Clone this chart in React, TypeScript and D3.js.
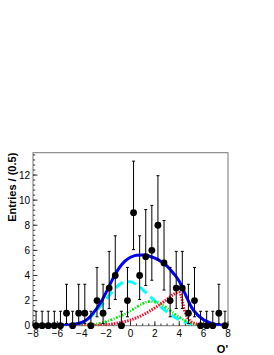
import React from "react";
import * as d3 from "d3";

// ---- data ----
const binCenters = [
  -7.75, -7.25, -6.75, -6.25, -5.75, -5.25, -4.75, -4.25, -3.75, -3.25, -2.75, -2.25, -1.75, -1.25, -0.75, -0.25,
  0.25, 0.75, 1.25, 1.75, 2.25, 2.75, 3.25, 3.75, 4.25, 4.75, 5.25, 5.75, 6.25, 6.75, 7.25, 7.75,
];
const counts = [0, 0, 0, 0, 0, 1, 0, 1, 1, 0, 2, 1, 3, 4, 0, 2, 9, 4, 5.5, 6, 8, 5, 2, 3, 3, 1, 2, 0, 0, 0, 1, 0];
const errLow = [
  0, 0, 0, 0, 0, 0.83, 0, 0.83, 0.83, 0, 1.29, 0.83, 1.63, 1.91, 0, 1.29,
  2.94, 1.91, 2.3, 2.38, 2.77, 2.16, 1.29, 1.63, 1.63, 0.83, 1.29, 0, 0, 0, 0.83, 0,
];
const errHigh = [
  1.15, 1.15, 1.15, 1.15, 1.15, 2.3, 1.15, 2.3, 2.3, 1.15, 2.64, 2.3, 2.92, 3.16, 1.15, 2.64,
  4.11, 3.16, 3.75, 3.58, 3.95, 3.38, 2.64, 2.92, 2.92, 2.3, 2.64, 1.15, 1.15, 1.15, 2.3, 1.15,
];

const curveX = [
  -8, -7.5, -7, -6.5, -6, -5.5, -5, -4.5, -4, -3.5, -3, -2.5, -2, -1.5, -1, -0.5, 0,
  0.5, 1, 1.5, 2, 2.5, 3, 3.5, 4, 4.5, 5, 5.5, 6, 6.5, 7, 7.5, 8,
];
const totalPdf = [
  0, 0, 0, 0, 0.01, 0.03, 0.06, 0.13, 0.27, 0.55, 1.08, 1.75, 2.65, 3.65, 4.5, 5.1, 5.45,
  5.62, 5.63, 5.55, 5.38, 5.12, 4.75, 4.2, 3.55, 2.5, 1.48, 0.86, 0.48, 0.25, 0.1, 0.03, 0.01,
];
const cyanPdf = [
  0, 0, 0, 0, 0, 0.01, 0.03, 0.09, 0.22, 0.5, 0.95, 1.5, 2.1, 2.7, 3.2, 3.48, 3.5,
  3.27, 2.88, 2.42, 1.97, 1.5, 1.1, 0.75, 0.47, 0.27, 0.14, 0.06, 0.02, 0, 0, 0, 0,
];
const greenPdf = [
  0, 0, 0, 0, 0, 0, 0, 0, 0.02, 0.05, 0.1, 0.2, 0.33, 0.5, 0.7, 0.92, 1.18,
  1.48, 1.76, 1.92, 1.9, 1.72, 1.4, 1.03, 0.68, 0.4, 0.2, 0.08, 0.03, 0.01, 0, 0, 0,
];
const redPdf = [
  0, 0, 0, 0, 0, 0, 0, 0, 0, 0, 0.02, 0.04, 0.08, 0.14, 0.22, 0.32, 0.45,
  0.63, 0.85, 1.12, 1.42, 1.75, 2.1, 2.48, 2.65, 1.0, 0.3, 0.12, 0.05, 0.02, 0.01, 0, 0,
];

const xTickValues = [-8, -6, -4, -2, 0, 2, 4, 6, 8];
const yTickValues = [0, 2, 4, 6, 8, 10, 12];
const yTitle = "Entries / (0.5)";
const xTitle = "O'";

// ---- layout ----
const W = 274;
const H = 355;
const left = 33;
const right = 228;
const top = 152.7;
const bottom = 325.7;
const yMax = 13.78;

export default function App() {
  const x = d3.scaleLinear().domain([-8, 8]).range([left, right]);
  const y = d3.scaleLinear().domain([0, yMax]).range([bottom, top]);

  const line = (vals: number[]) =>
    d3
      .line<number>()
      .x((_, i) => x(curveX[i]))
      .y((v) => y(v))
      .curve(d3.curveMonotoneX)(vals) || "";

  const xMinor = d3.range(-8, 8.001, 0.5);
  const yMinor = d3.range(0, yMax, 0.4);
  const minus = (v: number) => (v < 0 ? "\u2212" + Math.abs(v) : String(v));
  const font = "Liberation Sans, Arial, Helvetica, sans-serif";

  return (
    <svg width={W} height={H} style={{ position: "absolute", left: 0, top: 0 }} fontFamily={font}>
      <rect x={0} y={0} width={W} height={H} fill="#fff" />
      <defs>
        <clipPath id="frame">
          <rect x={left} y={top} width={right - left} height={bottom - top} />
        </clipPath>
      </defs>
      {/* frame */}
      <rect x={left} y={top} width={right - left} height={bottom - top} fill="none" stroke="#777" strokeWidth={1} />

      {/* y ticks */}
      {yMinor.map((v) => (
        <line key={"ym" + v} x1={left} x2={left + 2.2} y1={y(v)} y2={y(v)} stroke="#333" strokeWidth={1} />
      ))}
      {yTickValues.map((v) => (
        <g key={"y" + v}>
          <line x1={left} x2={left + 4.5} y1={y(v)} y2={y(v)} stroke="#333" strokeWidth={1} />
          <text x={left - 3} y={y(v)} dy="0.36em" textAnchor="end" fontSize={10} fill="#000">
            {v}
          </text>
        </g>
      ))}
      {/* x ticks */}
      {xMinor.map((v) => (
        <line key={"xm" + v} x1={x(v)} x2={x(v)} y1={bottom} y2={bottom - 2.2} stroke="#333" strokeWidth={1} />
      ))}
      {xTickValues.map((v) => (
        <g key={"x" + v}>
          <line x1={x(v)} x2={x(v)} y1={bottom} y2={bottom - 4.5} stroke="#333" strokeWidth={1} />
          <text x={x(v)} y={bottom + 11} textAnchor="middle" fontSize={10} fill="#000">
            {minus(v)}
          </text>
        </g>
      ))}

      {/* titles */}
      <text
        transform={`translate(15.5,${top}) rotate(-90)`}
        textAnchor="end"
        fontSize={11}
        fontWeight="bold"
        fill="#000"
      >
        {yTitle}
      </text>
      <text x={right} y={352.5} textAnchor="end" fontSize={11} fontWeight="bold" fill="#000">
        {xTitle}
      </text>

      {/* curves */}
      <g clipPath="url(#frame)" fill="none">
        <path d={line(cyanPdf)} stroke="#00ffff" strokeWidth={3} strokeDasharray="9,5" />
        <path d={line(greenPdf)} stroke="#00ee00" strokeWidth={2.6} strokeDasharray="2,1.5,1,1.5" />
        <path d={line(redPdf)} stroke="#ff1030" strokeWidth={3} strokeDasharray="1.5,1.2" />
        <path d={line(totalPdf)} stroke="#0000ff" strokeWidth={3} />
      </g>

      {/* data points */}
      <g>
        {binCenters.map((c, i) => {
          const cx = x(c);
          const hi = y(counts[i] + errHigh[i]);
          const lo = y(Math.max(0, counts[i] - errLow[i]));
          return (
            <g key={"p" + i}>
              <line x1={cx} x2={cx} y1={hi} y2={lo} stroke="#000" strokeWidth={1} />
              <line x1={cx - 1.5} x2={cx + 1.5} y1={hi} y2={hi} stroke="#000" strokeWidth={1} />
              {errLow[i] > 0 && (
                <line x1={cx - 1.5} x2={cx + 1.5} y1={lo} y2={lo} stroke="#000" strokeWidth={1} />
              )}
              <circle cx={cx} cy={y(counts[i])} r={3.4} fill="#000" />
            </g>
          );
        })}
      </g>
    </svg>
  );
}
